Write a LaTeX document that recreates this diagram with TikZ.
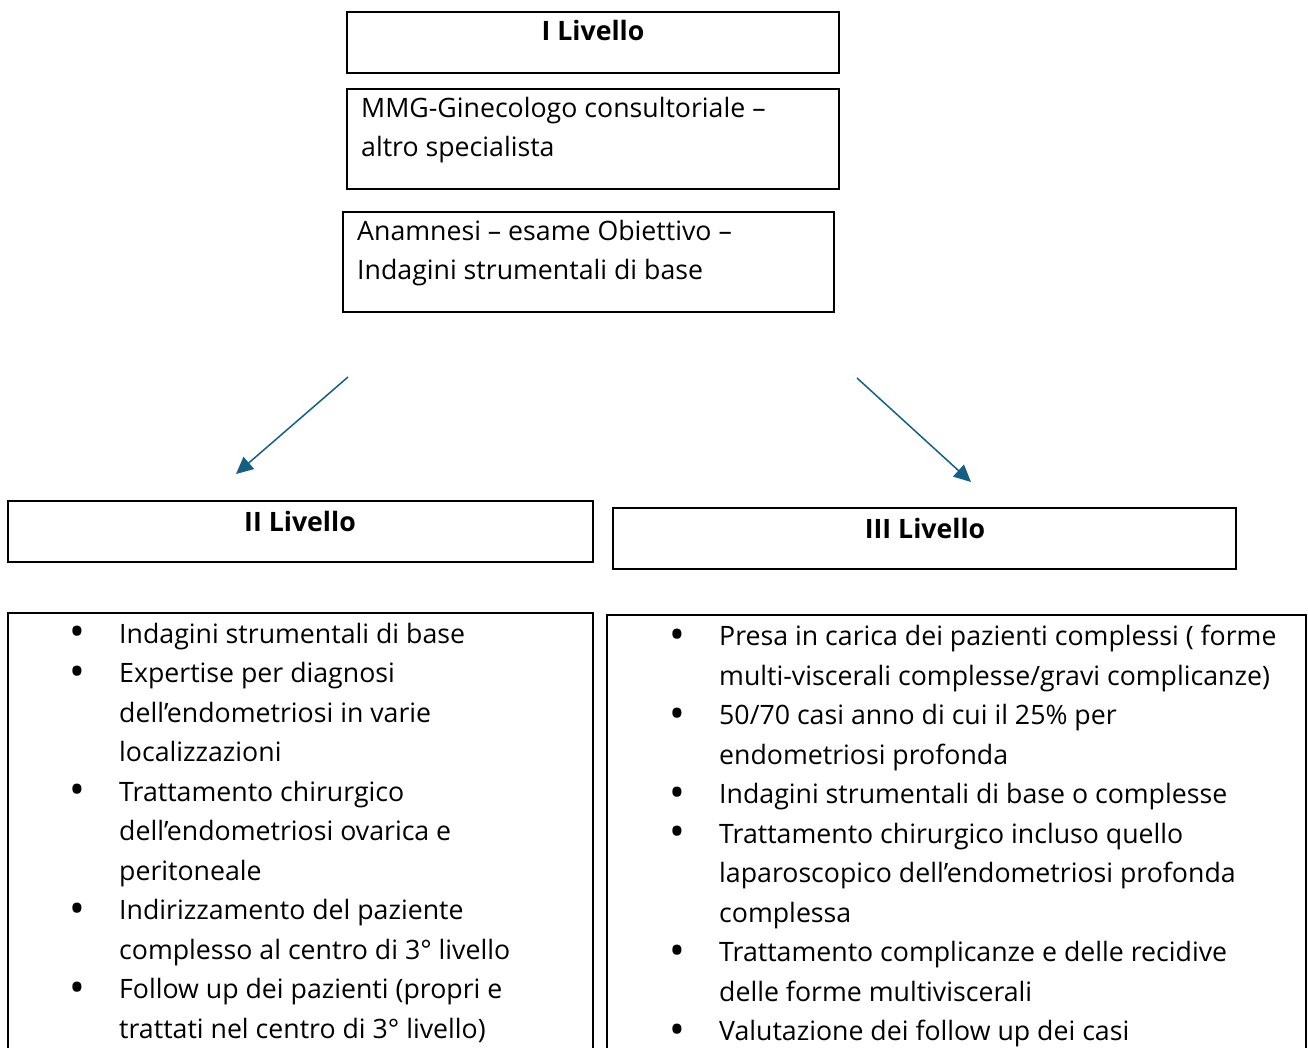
\documentclass[tikz,border=0pt]{standalone}
\usepackage{fontspec}
\setmainfont{Open Sans}
\usepackage{tikz}
\usetikzlibrary{arrows.meta}
\definecolor{linkblue}{RGB}{21,96,130}
\newcommand{\blt}{\makebox[42pt][l]{\makebox[0pt]{\raisebox{-3.5pt}{\fontsize{42}{42}\selectfont\textbullet}}}}

\begin{document}
\begin{tikzpicture}[x=1pt,y=-1pt,
  box/.style={draw,line width=2pt,inner sep=0pt},
  head/.style={font=\fontsize{26.7}{38.5}\selectfont\bfseries,anchor=base,inner sep=0pt},
  txt/.style={font=\fontsize{26.7}{38.5}\selectfont,anchor=north west,inner sep=0pt},
  lst/.style={font=\fontsize{26.7}{39.5}\selectfont,anchor=north west,inner sep=0pt},
  link/.style={linkblue,line width=1.5pt,-{Triangle[length=17pt,width=16pt]}}]
\useasboundingbox (0,0) rectangle (1308,1048);
\clip (0,0) rectangle (1308,1048);

\node[box,minimum width=492pt,minimum height=61pt] (lvl1) at (593,42.5) {};
\node[head] (lvl1t) at (593,41) {I Livello};
\node[box,minimum width=492pt,minimum height=100pt] (mmg) at (593,139) {};
\node[txt] (mmgt) at (361,90.5) {\begin{tabular}{@{}l@{}}MMG-Ginecologo consultoriale –\\altro specialista\end{tabular}};
\node[box,minimum width=491pt,minimum height=100pt] (anam) at (588.5,262) {};
\node[txt] (anamt) at (357,213.5) {\begin{tabular}{@{}l@{}}Anamnesi – esame Obiettivo –\\Indagini strumentali di base\end{tabular}};

\coordinate (s2) at (348,377);
\coordinate (e2) at (236,474);
\coordinate (s3) at (857,378);
\coordinate (e3) at (971,482);
\draw[link] (s2) -- (e2);
\draw[link] (s3) -- (e3);

\node[box,minimum width=585pt,minimum height=61pt] (lvl2) at (300.5,531.5) {};
\node[head] (lvl2t) at (300,531) {II Livello};
\node[box,minimum width=623pt,minimum height=61pt] (lvl3) at (924.5,538.5) {};
\node[head] (lvl3t) at (925,538) {III Livello};

\node[box,minimum width=585pt,minimum height=487pt] (lst2) at (300.5,856.5) {};
\node[lst] (lst2t) at (77,615.5) {\begin{tabular}{@{}l@{}l@{}}
\blt & Indagini strumentali di base\\
\blt & Expertise per diagnosi\\
 & dell'endometriosi in varie\\
 & localizzazioni\\
\blt & Trattamento chirurgico\\
 & dell'endometriosi ovarica e\\
 & peritoneale\\
\blt & Indirizzamento del paziente\\
 & complesso al centro di 3° livello\\
\blt & Follow up dei pazienti (propri e\\
 & trattati nel centro di 3° livello)
\end{tabular}};
\node[box,minimum width=699pt,minimum height=485pt] (lst3) at (956.5,857.5) {};
\node[lst] (lst3t) at (677,618) {\begin{tabular}{@{}l@{}l@{}}
\blt & Presa in carica dei pazienti complessi ( forme\\
 & multi-viscerali complesse/gravi complicanze)\\
\blt & 50/70 casi anno di cui il 25\% per\\
 & endometriosi profonda\\
\blt & Indagini strumentali di base o complesse\\
\blt & Trattamento chirurgico incluso quello\\
 & laparoscopico dell'endometriosi profonda\\
 & complessa\\
\blt & Trattamento complicanze e delle recidive\\
 & delle forme multiviscerali\\
\blt & Valutazione dei follow up dei casi
\end{tabular}};
\end{tikzpicture}
\end{document}
